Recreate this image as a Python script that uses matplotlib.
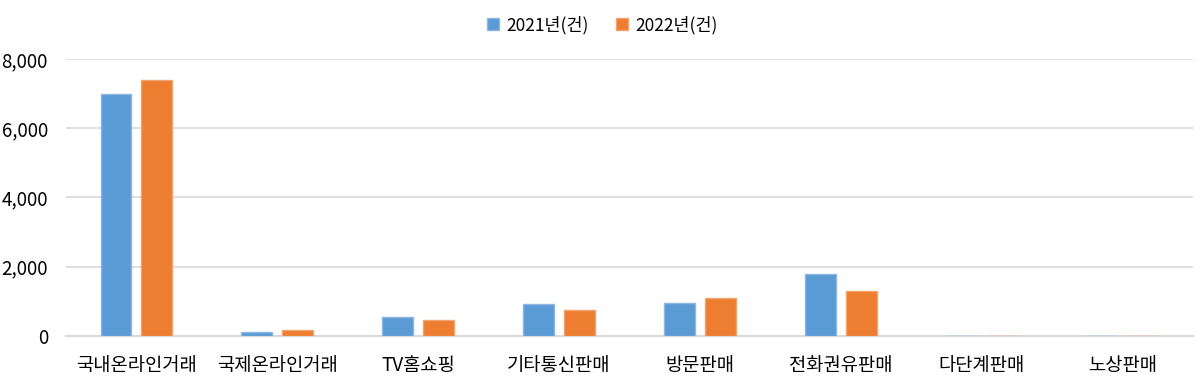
import matplotlib
matplotlib.use("Agg")
import matplotlib.pyplot as plt
import numpy as np
from matplotlib.ticker import FuncFormatter

plt.rcParams['font.family'] = ['Noto Sans CJK KR', 'DejaVu Sans']

categories = ['국내온라인거래', '국제온라인거래', 'TV홈쇼핑', '기타통신판매', '방문판매', '전화권유판매', '다단계판매', '노상판매']
series_2021 = [7000, 120, 550, 920, 955, 1790, 0, 0]
series_2022 = [7390, 165, 445, 735, 1100, 1285, 0, 0]
series_names = ['2021년(건)', '2022년(건)']
colors = ['#5B9BD5', '#ED7D31']
edge_colors = ['#8DB8E3', '#F4A46E']

fig = plt.figure(figsize=(12, 3.84), dpi=100)
ax = fig.add_axes([0.055, 0.1258, 0.939, 0.7206])

x = np.arange(len(categories))
w = 0.22
off = 0.145
ax.bar(x - off, series_2021, width=w, color=colors[0], edgecolor=edge_colors[0], linewidth=1, label=series_names[0], zorder=3)
ax.bar(x + off, series_2022, width=w, color=colors[1], edgecolor=edge_colors[1], linewidth=1, label=series_names[1], zorder=3)

ax.set_xlim(-0.5, len(categories) - 0.5)
ax.set_ylim(0, 8000)
ax.set_yticks([0, 2000, 4000, 6000, 8000])
ax.yaxis.set_major_formatter(FuncFormatter(lambda v, p: f'{int(v):,}'))
ax.set_xticks(x)
ax.set_xticklabels(categories, fontsize=13.5, fontweight='medium')
ax.tick_params(axis='y', labelsize=13.5, length=0, pad=13)
ax.tick_params(axis='x', length=0, pad=14)
for lab in ax.get_yticklabels():
    lab.set_fontweight('medium')
for lab in ax.get_yticklabels() + ax.get_xticklabels():
    lab.set_color('#000000')

ax.grid(axis='y', color='#D9D9D9', linewidth=1.2, zorder=0)
for s in ['top', 'right', 'left']:
    ax.spines[s].set_visible(False)
ax.spines['bottom'].set_color('#D9D9D9')
ax.spines['bottom'].set_linewidth(1.5)

leg = fig.legend(loc='upper center', bbox_to_anchor=(0.502, 1.0), ncol=2, frameon=False,
                 prop={'size': 12.5, 'weight': 'medium'},
                 handlelength=0.7, handleheight=0.7, handletextpad=0.4, columnspacing=1.6)

fig.savefig('out.png', dpi=100)
